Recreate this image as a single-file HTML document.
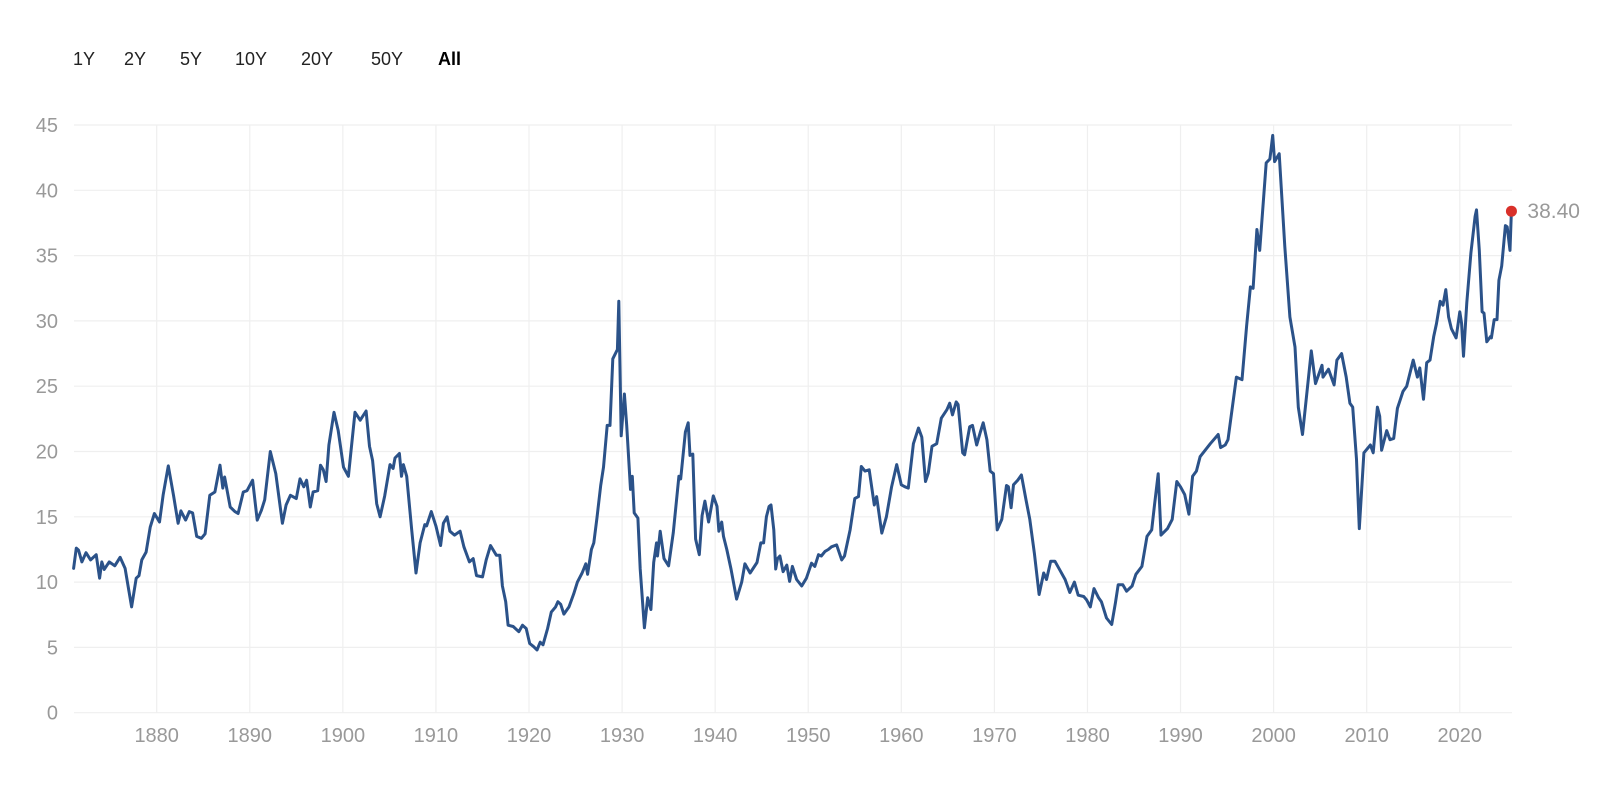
<!DOCTYPE html>
<html>
<head>
<meta charset="utf-8">
<style>
  html,body{margin:0;padding:0;background:#fff;}
  body{width:1600px;height:787px;overflow:hidden;position:relative;font-family:"Liberation Sans",sans-serif;}
  .range-btn{position:absolute;top:47px;font-size:18px;color:#222;cursor:pointer;line-height:24px;}
  .range-btn.active{color:#000;font-weight:bold;}
  svg{position:absolute;left:0;top:0;}
</style>
</head>
<body>
<div>
  <span class="range-btn" style="left:73px">1Y</span>
  <span class="range-btn" style="left:124px">2Y</span>
  <span class="range-btn" style="left:180px">5Y</span>
  <span class="range-btn" style="left:235px">10Y</span>
  <span class="range-btn" style="left:301px">20Y</span>
  <span class="range-btn" style="left:371px">50Y</span>
  <span class="range-btn active" style="left:438px">All</span>
</div>
<svg id="chart" width="1600" height="787"></svg>
<script>
const years = [
1871.07,1871.36,1871.6,1871.96,1872.4,1872.9,1873.5,1873.86,1874.1,1874.36,1874.9,1875.5,1876.07,1876.6,1877.3,1877.8,1878.1,1878.4,1878.86,1879.3,1879.75,1880.3,1880.7,1881.25,1881.8,1882.3,1882.6,1883.1,1883.5,1883.86,1884.3,1884.8,1885.2,1885.7,1886.25,1886.8,1887.1,1887.3,1887.9,1888.4,1888.75,1889.3,1889.7,1890.3,1890.8,1891.25,1891.6,1892.2,1892.8,1893.5,1893.9,1894.36,1895.0,1895.4,1895.8,1896.1,1896.5,1896.8,1897.3,1897.6,1897.9,1898.2,1898.5,1899.05,1899.5,
1900.07,1900.6,1901.3,1901.86,1902.5,1902.86,1903.2,1903.64,1904.0,1904.5,1905.07,1905.4,1905.6,1906.07,1906.3,1906.5,1906.86,1907.4,1907.86,1908.3,1908.8,1909.0,1909.5,1910.0,1910.5,1910.8,1911.2,1911.5,1912.0,1912.6,1913.0,1913.6,1914.0,1914.36,1915.0,1915.4,1915.86,1916.5,1916.86,1917.14,1917.5,1917.75,1918.3,1918.9,1919.3,1919.7,1920.07,1920.5,1920.86,1921.2,1921.5,1922.0,1922.4,1922.86,1923.1,
1923.4,1923.75,1924.3,1924.8,1925.2,1925.7,1926.1,1926.3,1926.7,1926.96,1927.3,1927.7,1928.0,1928.4,1928.7,1929.0,1929.5,1929.65,1929.9,1930.25,1930.5,1930.9,1931.1,1931.3,1931.7,1931.95,1932.4,1932.75,1933.1,1933.4,1933.7,1933.8,1934.1,1934.5,1935.0,1935.5,1936.1,1936.3,1936.8,1937.1,1937.3,1937.6,1937.9,1938.0,1938.3,1938.6,1938.9,1939.3,1939.8,1940.2,1940.4,1940.7,1940.9,1941.25,1941.7,1942.3,1942.85,1943.2,1943.75,1944.5,1944.9,1945.2,1945.5,1945.8,1946.0,1946.3,1946.5,1946.7,
1946.95,1947.3,1947.7,1948.0,1948.3,1948.75,1949.3,1949.8,1950.35,1950.7,1951.1,1951.4,1951.8,1952.15,1952.5,1953.05,1953.6,1953.9,1954.5,1955.0,1955.4,1955.7,1956.1,1956.55,1957.1,1957.35,1957.9,1958.4,1958.96,1959.5,1960.0,1960.4,1960.75,1961.3,1961.85,1962.2,1962.6,1962.9,1963.3,1963.8,1964.3,1964.9,1965.2,1965.5,1965.9,1966.1,1966.6,1966.8,1967.35,1967.65,1968.1,1968.5,1968.8,1969.2,1969.55,1969.9,1970.3,1970.8,1971.3,1971.5,1971.8,1972.05,1972.5,1972.9,1973.4,1973.8,1974.3,1974.8,1975.3,1975.6,1976.05,1976.5,1977.05,1977.6,1978.1,1978.6,1979.0,1979.6,1979.9,1980.3,1980.7,1981.2,1981.5,1982.05,1982.6,1983.0,1983.3,1983.8,1984.2,1984.8,1985.2,1985.85,1986.4,1986.9,1987.2,1987.6,1987.9,1988.6,1989.1,1989.6,1990.0,1990.45,1990.9,1991.3,1991.7,
1992.1,1993.2,1994.05,1994.3,1994.8,1995.1,1996.0,1996.6,1997.1,1997.5,1997.8,1998.2,1998.5,1999.2,1999.6,1999.9,2000.1,2000.6,2001.2,2001.75,2002.3,2002.65,2003.1,2003.5,2004.05,2004.5,2005.2,2005.3,2005.9,2006.5,2006.8,2007.3,2007.8,2008.2,2008.5,2008.9,2009.2,2009.7,2010.4,2010.7,2011.15,2011.4,2011.6,2012.15,2012.5,2012.9,2013.3,2013.9,2014.3,2015.0,2015.45,2015.7,2016.1,2016.45,2016.8,2017.2,2017.5,2017.9,2018.2,2018.5,2018.8,2019.1,2019.6,2020.0,2020.2,2020.4,2020.75,2021.2,2021.65,2021.8,2022.1,2022.4,2022.6,2022.9,2023.3,2023.4,2023.7,2024.0,2024.2,2024.5,2024.9,2025.1,2025.4,2025.55
];
const capeValues = [
11.05,12.6,12.45,11.55,12.25,11.7,12.1,10.3,11.55,10.97,11.55,11.25,11.9,11.05,8.1,10.3,10.5,11.7,12.3,14.2,15.25,14.6,16.7,18.9,16.65,14.5,15.45,14.75,15.4,15.3,13.5,13.35,13.7,16.65,16.9,18.95,17.2,18.05,15.75,15.4,15.25,16.9,17.0,17.8,14.75,15.5,16.3,20.0,18.3,14.5,15.9,16.65,16.4,17.9,17.3,17.8,15.75,16.9,17.0,18.95,18.6,17.7,20.5,23.0,21.6,
18.8,18.1,23.0,22.4,23.1,20.4,19.3,16.0,15.0,16.6,19.0,18.7,19.5,19.85,18.1,19.0,18.1,14.0,10.7,13.0,14.4,14.3,15.4,14.3,12.8,14.5,15.0,13.9,13.6,13.9,12.7,11.55,11.8,10.5,10.4,11.7,12.8,12.05,12.05,9.7,8.5,6.7,6.6,6.2,6.7,6.45,5.3,5.05,4.8,5.4,5.2,6.45,7.7,8.1,8.5,
8.3,7.55,8.1,9.1,10.0,10.7,11.4,10.6,12.5,13.0,14.95,17.4,18.8,22.0,22.0,27.1,27.8,31.5,21.2,24.4,22.0,17.1,18.1,15.3,14.9,11.0,6.5,8.8,7.9,11.5,13.0,12.0,13.9,11.8,11.25,13.8,18.1,17.9,21.5,22.2,19.7,19.8,13.3,13.0,12.1,15.1,16.2,14.6,16.6,15.8,13.9,14.6,13.5,12.5,11.0,8.7,10.0,11.4,10.7,11.5,13.0,13.0,15.0,15.8,15.9,14.0,11.0,11.8,
12.0,10.8,11.3,10.05,11.2,10.2,9.7,10.3,11.45,11.2,12.1,12.0,12.35,12.5,12.7,12.85,11.7,12.0,14.0,16.4,16.55,18.85,18.5,18.6,15.9,16.55,13.75,15.0,17.3,19.0,17.45,17.3,17.2,20.6,21.8,21.1,17.7,18.35,20.4,20.6,22.55,23.2,23.7,22.8,23.8,23.6,19.9,19.75,21.9,22.0,20.5,21.5,22.2,20.9,18.5,18.3,14.0,14.8,17.4,17.3,15.7,17.45,17.8,18.2,16.3,14.8,12.2,9.05,10.7,10.2,11.6,11.6,10.9,10.2,9.2,10.0,9.0,8.9,8.65,8.1,9.5,8.8,8.5,7.25,6.75,8.4,9.8,9.8,9.3,9.7,10.6,11.2,13.5,14.0,15.9,18.3,13.6,14.1,14.8,17.7,17.3,16.7,15.2,18.1,18.5,
19.6,20.6,21.3,20.3,20.5,20.9,25.7,25.5,29.6,32.6,32.5,37.0,35.4,42.1,42.4,44.2,42.2,42.8,35.7,30.3,28.0,23.4,21.3,24.0,27.7,25.2,26.6,25.7,26.3,25.1,27.0,27.5,25.7,23.7,23.4,19.4,14.1,19.9,20.5,19.9,23.4,22.7,20.1,21.6,20.9,21.0,23.3,24.6,25.0,27.0,25.7,26.4,24.0,26.8,27.0,28.8,29.8,31.5,31.2,32.4,30.3,29.4,28.7,30.7,29.8,27.3,31.4,35.2,38.0,38.5,35.4,30.7,30.6,28.4,28.8,28.7,30.1,30.1,33.1,34.2,37.3,37.2,35.4,38.4
];
const yTicks = [0,5,10,15,20,25,30,35,40,45];
const xTicks = [1880,1890,1900,1910,1920,1930,1940,1950,1960,1970,1980,1990,2000,2010,2020];
const lastLabel = "38.40";

const NS = "http://www.w3.org/2000/svg";
const svg = document.getElementById('chart');
const plotLeft = 74, plotRight = 1512, plotTop = 125, plotBottom = 712.7;
function xScale(yr){ return 156.7 + (yr - 1880) * (1366.7 - 156.7) / 130; }
function yScale(v){ return plotBottom - v * (plotBottom - plotTop) / 45; }
function mk(tag, attrs){ const e = document.createElementNS(NS, tag); for (const k in attrs) e.setAttribute(k, attrs[k]); return e; }

const gridG = mk('g', {});


svg.appendChild(gridG);
xTicks.forEach(function(t){
  const l = mk('line', {x1: xScale(t), x2: xScale(t), y1: plotTop, y2: plotBottom, stroke: '#efefef', 'stroke-width': 1.2});
  
  
  gridG.appendChild(l);
  const tx = mk('text', {x: xScale(t), y: 742, 'text-anchor': 'middle', 'font-size': 20, fill: '#999', 'font-family': 'Liberation Sans, sans-serif'});
  tx.textContent = t;
  
  
  svg.appendChild(tx);
});
yTicks.forEach(function(t){
  const l = mk('line', {x1: plotLeft, x2: plotRight, y1: yScale(t), y2: yScale(t), stroke: '#efefef', 'stroke-width': 1.2});
  
  
  gridG.appendChild(l);
  const tx = mk('text', {x: 58, y: yScale(t) + 7, 'text-anchor': 'end', 'font-size': 20, fill: '#999', 'font-family': 'Liberation Sans, sans-serif'});
  tx.textContent = t;
  
  
  svg.appendChild(tx);
});

let d = '';
years.forEach(function(yr, i){ d += (i ? 'L' : 'M') + xScale(yr).toFixed(1) + ',' + yScale(capeValues[i]).toFixed(1); });
const path = mk('path', {d: d, fill: 'none', stroke: '#2b5289', 'stroke-width': 3, 'stroke-linejoin': 'round', 'stroke-linecap': 'round'});


svg.appendChild(path);

const li = years.length - 1;
const dot = mk('circle', {cx: xScale(years[li]), cy: yScale(capeValues[li]), r: 5.5, fill: '#d9302a'});


svg.appendChild(dot);
const lab = mk('text', {x: xScale(years[li]) + 16, y: yScale(capeValues[li]) + 7, 'font-size': 21, fill: '#999', 'font-family': 'Liberation Sans, sans-serif'});
lab.textContent = lastLabel;


svg.appendChild(lab);
</script>
</body>
</html>
